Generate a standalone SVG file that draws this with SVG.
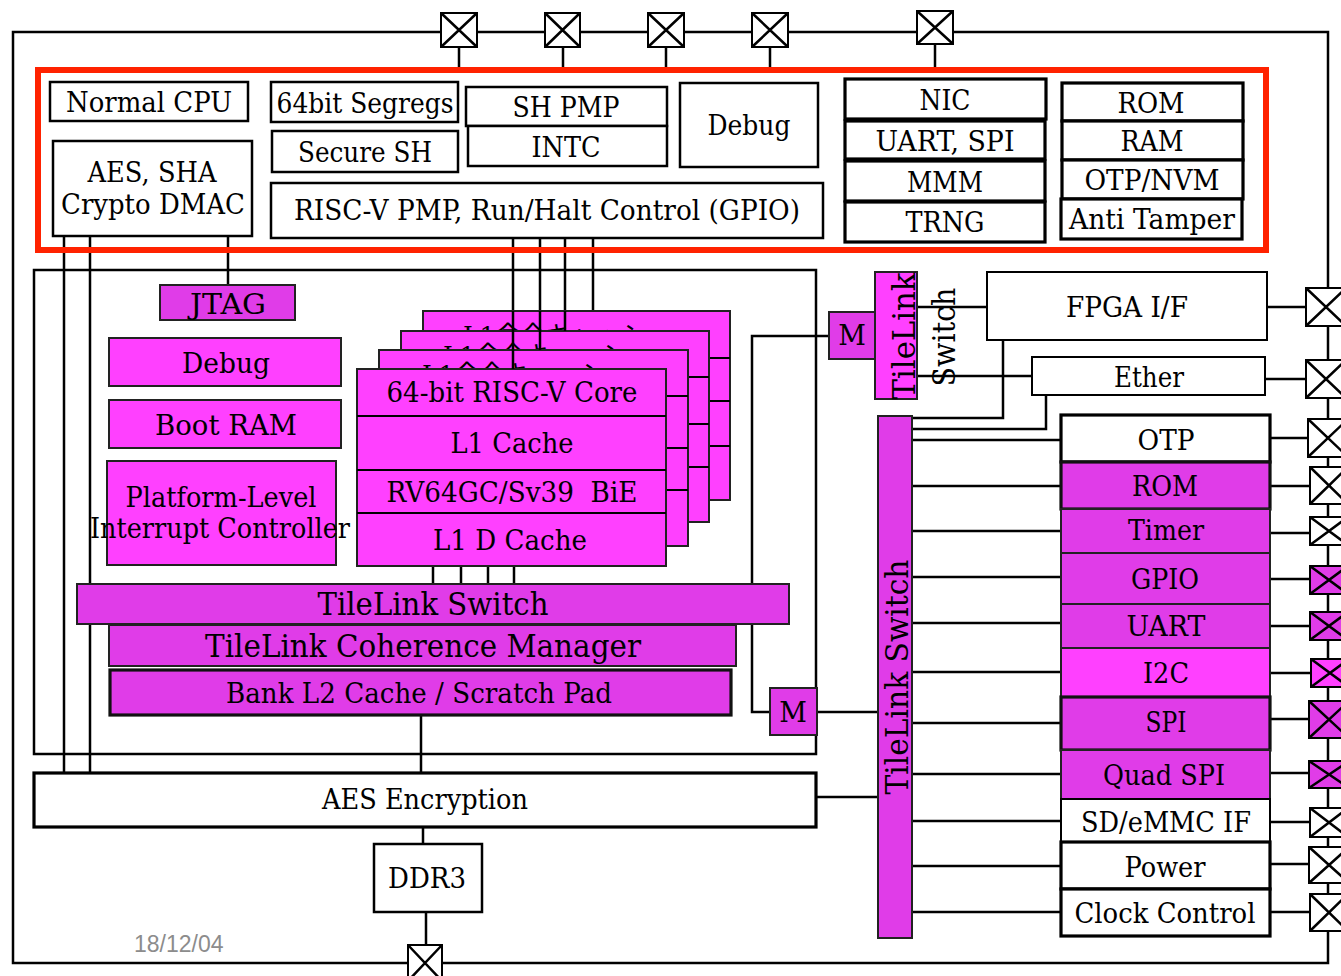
<svg xmlns="http://www.w3.org/2000/svg" width="1341" height="976" viewBox="0 0 1341 976">
<style>
.b{fill:#fff;stroke:#000;stroke-width:2.5}
.bt{fill:#fff;stroke:#000;stroke-width:3.2}
.m1{fill:#ff40ff;stroke:#222;stroke-width:2}
.m2{fill:#e03ce8;stroke:#222;stroke-width:2}
.m2t{fill:#e03ce8;stroke:#111;stroke-width:3.2}
.ln{stroke:#000;stroke-width:2.5;fill:none}
.t{font-family:"DejaVu Serif","Liberation Serif",serif;font-size:27px;fill:#000;text-anchor:middle}
.big{font-size:31px}
.cj{font-family:"DejaVu Serif","Noto Sans CJK JP",serif;font-size:25px;fill:#000}
.pad{fill:#fff;stroke:#000;stroke-width:2}
.padm{fill:#e03ce8;stroke:#000;stroke-width:2}
.padb{fill:#ff40ff;stroke:#000;stroke-width:2}
.x{stroke:#000;stroke-width:2.5;fill:none}
.date{font-family:"Liberation Sans",Arial,sans-serif;font-size:23px;fill:#8c8c8c}
</style>
<defs>
  <clipPath id="c4"><rect x="423" y="311" width="307" height="20"/></clipPath>
  <clipPath id="c3"><rect x="401" y="331" width="308" height="19"/></clipPath>
  <clipPath id="c2"><rect x="379" y="350" width="309" height="19"/></clipPath>
</defs>

<!-- outer chip boundary -->
<rect id="chip" x="13" y="32" width="1315" height="931" fill="none" stroke="#000" stroke-width="2.5"/>

<!-- connectors -->
<g id="connectors" class="ln">
  <path d="M459 47V68M563 47V68M666 47V68M770 47V68M935 44V68"/>
  <path d="M64 237V773M90 237V773"/>
  <path d="M228 237V285"/>
  <path d="M513 238V369M540 238V350M565 238V331M593 238V311"/>
  <path d="M433 566V585M461 566V585M488 566V585M514 566V585"/>
  <path d="M421 715V773M423 827V844M426 912V945"/>
  <path d="M770 712H752V336H829"/>
  <path d="M817 712H878"/>
  <path d="M816 797H878"/>
  <path d="M917 307H987M917 376H1032"/>
  <path d="M912 418H1003V341M912 429H1046V395"/>
  <path d="M912 440H1061M912 486H1061M912 531H1061M912 577H1061M912 623H1061M912 672H1061M912 723H1061M912 774H1061M912 821H1061M912 866H1061M912 912H1061"/>
  <path d="M1267 307H1308M1265 379H1308M1270 438H1308M1270 486H1310M1270 533H1310M1270 579H1310M1270 626H1310M1270 673H1310M1270 719H1310M1270 773H1310M1270 822H1310M1270 864H1310M1270 912H1310"/>
</g>

<!-- top pads -->
<g id="pads-top">
  <rect class="pad" x="441" y="13" width="36" height="34"/><path class="x" d="M441 13L477 47M441 47L477 13"/>
  <rect class="pad" x="545" y="13" width="35" height="34"/><path class="x" d="M545 13L580 47M545 47L580 13"/>
  <rect class="pad" x="648" y="13" width="36" height="34"/><path class="x" d="M648 13L684 47M648 47L684 13"/>
  <rect class="pad" x="752" y="13" width="36" height="34"/><path class="x" d="M752 13L788 47M752 47L788 13"/>
  <rect class="pad" x="917" y="11" width="36" height="33"/><path class="x" d="M917 11L953 44M917 44L953 11"/>
</g>

<!-- red secure region -->
<rect id="secure-region" x="38" y="70" width="1228" height="180" fill="none" stroke="#ff2200" stroke-width="6"/>

<g id="normal-cpu"><rect class="b" x="50" y="82" width="198" height="39"/><text class="t" x="149" y="112" textLength="166" lengthAdjust="spacingAndGlyphs">Normal CPU</text></g>
<g id="aes-sha"><rect class="b" x="53" y="141" width="199" height="95"/><text class="t" x="152" y="182" textLength="129" lengthAdjust="spacingAndGlyphs">AES, SHA</text><text class="t" x="153" y="214" textLength="184" lengthAdjust="spacingAndGlyphs">Crypto DMAC</text></g>
<g id="segregs"><rect class="b" x="271" y="82" width="187" height="40"/><text class="t" x="365" y="113" textLength="177" lengthAdjust="spacingAndGlyphs">64bit Segregs</text></g>
<g id="secure-sh"><rect class="b" x="272" y="131" width="186" height="41"/><text class="t" x="365" y="162" textLength="134" lengthAdjust="spacingAndGlyphs">Secure SH</text></g>
<g id="riscv-pmp"><rect class="b" x="271" y="183" width="552" height="55"/><text class="t" x="547" y="220" textLength="506" lengthAdjust="spacingAndGlyphs">RISC-V PMP, Run/Halt Control (GPIO)</text></g>
<g id="sh-pmp"><rect class="b" x="466" y="87" width="201" height="39"/><text class="t" x="566" y="117" textLength="107" lengthAdjust="spacingAndGlyphs">SH PMP</text></g>
<g id="intc"><rect class="b" x="468" y="126" width="199" height="40"/><text class="t" x="566" y="157" textLength="69" lengthAdjust="spacingAndGlyphs">INTC</text></g>
<g id="debug-top"><rect class="b" x="680" y="83" width="138" height="84"/><text class="t" x="749" y="135" textLength="83" lengthAdjust="spacingAndGlyphs">Debug</text></g>
<g id="nic"><rect class="bt" x="845" y="79" width="201" height="40"/><text class="t" x="945" y="110" textLength="51" lengthAdjust="spacingAndGlyphs">NIC</text></g>
<g id="uart-spi-top"><rect class="bt" x="845" y="121" width="200" height="38"/><text class="t" x="945" y="151" textLength="139" lengthAdjust="spacingAndGlyphs">UART, SPI</text></g>
<g id="mmm"><rect class="bt" x="845" y="161" width="200" height="40"/><text class="t" x="945" y="192" textLength="76" lengthAdjust="spacingAndGlyphs">MMM</text></g>
<g id="trng"><rect class="bt" x="845" y="202" width="200" height="40"/><text class="t" x="945" y="232" textLength="79" lengthAdjust="spacingAndGlyphs">TRNG</text></g>
<g id="rom-top"><rect class="bt" x="1062" y="83" width="181" height="38"/><text class="t" x="1151" y="113" textLength="67" lengthAdjust="spacingAndGlyphs">ROM</text></g>
<g id="ram-top"><rect class="bt" x="1062" y="121" width="181" height="39"/><text class="t" x="1152" y="151" textLength="63" lengthAdjust="spacingAndGlyphs">RAM</text></g>
<g id="otp-nvm"><rect class="bt" x="1062" y="160" width="181" height="39"/><text class="t" x="1152" y="190" textLength="135" lengthAdjust="spacingAndGlyphs">OTP/NVM</text></g>
<g id="anti-tamper"><rect class="bt" x="1061" y="199" width="181" height="40"/><text class="t" x="1152" y="229" textLength="166" lengthAdjust="spacingAndGlyphs">Anti Tamper</text></g>

<!-- core complex -->
<rect id="core-complex" x="34" y="270" width="782" height="484" fill="none" stroke="#000" stroke-width="2.5"/>

<g id="jtag"><rect class="m2" x="160" y="285" width="135" height="35"/><text class="t" x="228" y="314" textLength="76" lengthAdjust="spacingAndGlyphs">JTAG</text></g>
<g id="debug-left"><rect class="m1" x="109" y="338" width="232" height="48"/><text class="t" x="226" y="373" textLength="88" lengthAdjust="spacingAndGlyphs">Debug</text></g>
<g id="boot-ram"><rect class="m1" x="109" y="400" width="232" height="48"/><text class="t" x="226" y="435" textLength="142" lengthAdjust="spacingAndGlyphs">Boot RAM</text></g>
<g id="plic"><rect class="m1" x="107" y="461" width="229" height="104"/><text class="t" x="221" y="507" textLength="191" lengthAdjust="spacingAndGlyphs">Platform-Level</text><text class="t" x="220" y="538" textLength="260" lengthAdjust="spacingAndGlyphs">Interrupt Controller</text></g>

<g id="core-4">
  <rect class="m1" x="423" y="311" width="307" height="189"/>
  <text class="cj" x="463" y="344" clip-path="url(#c4)">L1命令キャッシュ</text>
  <path class="ln" style="stroke-width:2" d="M423 358H730M423 401H730M423 446H730"/>
</g>
<g id="core-3">
  <rect class="m1" x="401" y="331" width="308" height="191"/>
  <text class="cj" x="443" y="364" clip-path="url(#c3)">L1命令キャッシュ</text>
  <path class="ln" style="stroke-width:2" d="M401 377H709M401 424H709M401 467H709"/>
</g>
<g id="core-2">
  <rect class="m1" x="379" y="350" width="309" height="196"/>
  <text class="cj" x="422" y="383" clip-path="url(#c2)">L1命令キャッシュ</text>
  <path class="ln" style="stroke-width:2" d="M379 396H688M379 448H688M379 490H688"/>
</g>
<g id="core-1">
  <rect class="m1" x="357" y="369" width="309" height="197"/>
  <path class="ln" style="stroke-width:2" d="M357 416H666M357 470H666M357 513H666"/>
  <text class="t" x="512" y="402" textLength="251" lengthAdjust="spacingAndGlyphs">64-bit RISC-V Core</text>
  <text class="t" x="512" y="453" textLength="123" lengthAdjust="spacingAndGlyphs">L1 Cache</text>
  <text class="t" x="512" y="502" textLength="251" lengthAdjust="spacingAndGlyphs" xml:space="preserve">RV64GC/Sv39  BiE</text>
  <text class="t" x="510" y="550" textLength="154" lengthAdjust="spacingAndGlyphs">L1 D Cache</text>
</g>
<g id="core-links" class="ln">
  <path d="M513 311V369M540 311V350M565 311V331"/>
</g>

<g id="tl-switch"><rect class="m2" x="77" y="584" width="712" height="40"/><text class="t big" x="433" y="615" textLength="231" lengthAdjust="spacingAndGlyphs">TileLink Switch</text></g>
<g id="tl-coherence"><rect class="m2" x="109" y="625" width="627" height="41"/><text class="t big" x="423" y="657" textLength="436" lengthAdjust="spacingAndGlyphs">TileLink Coherence Manager</text></g>
<g id="l2-cache"><rect class="m2t" x="110" y="670" width="621" height="45"/><text class="t" x="419" y="703" textLength="386" lengthAdjust="spacingAndGlyphs">Bank L2 Cache / Scratch Pad</text></g>

<g id="m-lower"><rect class="m2" x="770" y="688" width="47" height="47"/><text class="t" x="793" y="722">M</text></g>
<g id="m-upper"><rect class="m2" x="829" y="312" width="46" height="47"/><text class="t" x="852" y="345">M</text></g>

<g id="aes-enc"><rect class="bt" x="34" y="773" width="782" height="54"/><text class="t" x="425" y="809" textLength="206" lengthAdjust="spacingAndGlyphs">AES Encryption</text></g>
<g id="ddr3"><rect class="b" x="374" y="844" width="108" height="68"/><text class="t" x="427" y="888" textLength="78" lengthAdjust="spacingAndGlyphs">DDR3</text></g>
<g id="pad-ddr"><rect class="pad" x="408" y="945" width="34" height="36"/><path class="x" d="M408 945L442 981M408 981L442 945"/></g>
<text class="date" x="134" y="952">18/12/04</text>

<!-- small tilelink switch -->
<g id="tl-switch-small">
  <rect class="m1" x="875" y="272" width="42" height="127"/>
  <text class="t big" transform="translate(915,336) rotate(-90)" textLength="127" lengthAdjust="spacingAndGlyphs">TileLink</text>
  <text class="t big" transform="translate(955,337) rotate(-90)" textLength="99" lengthAdjust="spacingAndGlyphs">Switch</text>
</g>

<g id="fpga-if"><rect class="b" x="987" y="272" width="280" height="68" style="stroke-width:2"/><text class="t" x="1127" y="317" textLength="122" lengthAdjust="spacingAndGlyphs">FPGA I/F</text></g>
<g id="ether"><rect class="b" x="1032" y="357" width="233" height="38" style="stroke-width:2"/><text class="t" x="1149" y="387" textLength="70" lengthAdjust="spacingAndGlyphs">Ether</text></g>

<!-- big tilelink switch -->
<g id="tl-switch-big">
  <rect class="m2" x="878" y="416" width="34" height="522"/>
  <text class="t big" transform="translate(908,677) rotate(-90)" textLength="235" lengthAdjust="spacingAndGlyphs">TileLink Switch</text>
</g>

<!-- peripherals -->
<g id="otp"><rect class="bt" x="1061" y="415" width="209" height="47"/><text class="t" x="1166" y="450" textLength="57" lengthAdjust="spacingAndGlyphs">OTP</text></g>
<g id="rom"><rect class="m2t" x="1061" y="462" width="209" height="47"/><text class="t" x="1165" y="496" textLength="66" lengthAdjust="spacingAndGlyphs">ROM</text></g>
<g id="timer"><rect class="m2" x="1061" y="509" width="209" height="44"/><text class="t" x="1166" y="540" textLength="76" lengthAdjust="spacingAndGlyphs">Timer</text></g>
<g id="gpio"><rect class="m2" x="1061" y="553" width="209" height="51"/><text class="t" x="1165" y="589" textLength="68" lengthAdjust="spacingAndGlyphs">GPIO</text></g>
<g id="uart"><rect class="m2" x="1061" y="604" width="209" height="44"/><text class="t" x="1166" y="636" textLength="79" lengthAdjust="spacingAndGlyphs">UART</text></g>
<g id="i2c"><rect class="m1" x="1061" y="648" width="209" height="49"/><text class="t" x="1166" y="683" textLength="46" lengthAdjust="spacingAndGlyphs">I2C</text></g>
<g id="spi"><rect class="m2t" x="1061" y="697" width="209" height="53"/><text class="t" x="1166" y="732" textLength="41" lengthAdjust="spacingAndGlyphs">SPI</text></g>
<g id="quad-spi"><rect class="m2" x="1061" y="750" width="209" height="49"/><text class="t" x="1164" y="785" textLength="122" lengthAdjust="spacingAndGlyphs">Quad SPI</text></g>
<g id="sd-emmc"><rect class="b" x="1061" y="799" width="209" height="43" style="stroke-width:2"/><text class="t" x="1166" y="832" textLength="170" lengthAdjust="spacingAndGlyphs">SD/eMMC IF</text></g>
<g id="power"><rect class="bt" x="1061" y="842" width="209" height="47"/><text class="t" x="1165" y="877" textLength="81" lengthAdjust="spacingAndGlyphs">Power</text></g>
<g id="clock-control"><rect class="bt" x="1061" y="889" width="209" height="47"/><text class="t" x="1165" y="923" textLength="181" lengthAdjust="spacingAndGlyphs">Clock Control</text></g>

<!-- right pads -->
<g id="pads-right">
  <rect class="pad" x="1306" y="288" width="40" height="38"/><path class="x" d="M1306 288L1346 326M1306 326L1346 288"/>
  <rect class="pad" x="1306" y="360" width="40" height="38"/><path class="x" d="M1306 360L1346 398M1306 398L1346 360"/>
  <rect class="pad" x="1308" y="419" width="40" height="38"/><path class="x" d="M1308 419L1348 457M1308 457L1348 419"/>
  <rect class="pad" x="1310" y="467" width="38" height="37"/><path class="x" d="M1310 467L1348 504M1310 504L1348 467"/>
  <rect class="pad" x="1310" y="517" width="38" height="28"/><path class="x" d="M1310 517L1348 545M1310 545L1348 517"/>
  <rect class="padm" x="1310" y="566" width="38" height="28"/><path class="x" d="M1310 566L1348 594M1310 594L1348 566"/>
  <rect class="padm" x="1310" y="612" width="38" height="28"/><path class="x" d="M1310 612L1348 640M1310 640L1348 612"/>
  <rect class="padb" x="1311" y="659" width="38" height="28"/><path class="x" d="M1311 659L1349 687M1311 687L1349 659"/>
  <rect class="padm" x="1309" y="701" width="40" height="37"/><path class="x" d="M1309 701L1349 738M1309 738L1349 701"/>
  <rect class="padm" x="1309" y="761" width="40" height="27"/><path class="x" d="M1309 761L1349 788M1309 788L1349 761"/>
  <rect class="pad" x="1310" y="808" width="38" height="29"/><path class="x" d="M1310 808L1348 837M1310 837L1348 808"/>
  <rect class="pad" x="1309" y="847" width="40" height="36"/><path class="x" d="M1309 847L1349 883M1309 883L1349 847"/>
  <rect class="pad" x="1310" y="894" width="38" height="37"/><path class="x" d="M1310 894L1348 931M1310 931L1348 894"/>
</g>
</svg>
